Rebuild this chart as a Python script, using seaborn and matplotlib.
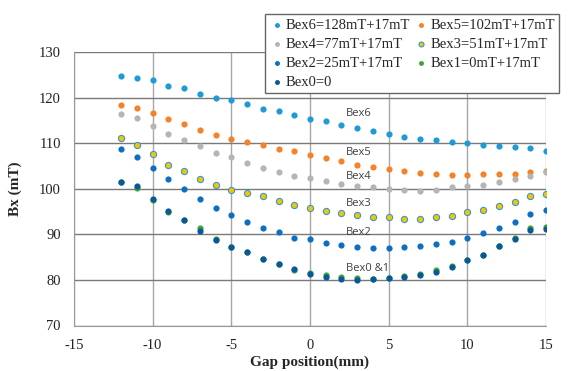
import matplotlib
matplotlib.use("Agg")
import matplotlib.pyplot as plt
import seaborn as sns
import pandas as pd
import numpy as np

gap = list(range(-12, 16))

bex6 = [124.8, 124.4, 123.8, 122.6, 122.0, 120.7, 119.8, 119.4, 118.6, 117.6, 117.0, 116.1,
        115.3, 114.9, 113.9, 113.4, 112.7, 112.0, 111.4, 110.9, 110.6, 110.3, 110.0, 109.7,
        109.4, 109.1, 109.0, 108.2]
bex5 = [118.4, 117.8, 116.6, 115.4, 114.1, 112.9, 111.8, 110.9, 110.2, 109.7, 108.8, 108.2,
        107.3, 106.7, 106.0, 105.2, 104.7, 104.3, 103.9, 103.5, 103.3, 103.1, 103.0, 103.3,
        103.3, 103.3, 103.7, 104.0]
bex4 = [116.3, 115.5, 113.7, 112.1, 110.6, 109.4, 107.9, 106.9, 105.7, 104.6, 103.7, 102.8,
        102.3, 101.7, 101.1, 100.7, 100.3, 99.9, 99.8, 99.5, 99.8, 100.4, 100.7, 100.9,
        101.4, 102.2, 102.9, 103.6]
bex3 = [111.2, 109.7, 107.6, 105.3, 103.9, 102.2, 100.9, 99.8, 99.0, 98.3, 97.4, 96.4,
        95.7, 95.1, 94.6, 94.3, 93.8, 93.8, 93.3, 93.3, 93.7, 94.1, 94.9, 95.3,
        96.2, 97.1, 98.4, 98.8]
bex2 = [108.7, 107.0, 104.6, 102.2, 100.0, 97.7, 95.7, 94.2, 92.7, 91.4, 90.5, 89.3,
        88.9, 88.1, 87.6, 87.3, 87.0, 87.0, 87.2, 87.5, 87.8, 88.4, 89.2, 90.4,
        91.4, 92.7, 94.4, 95.3]
bex1 = [101.4, 100.1, 97.6, 94.9, 93.2, 91.3, 89.0, 87.3, 86.1, 84.6, 83.4, 82.2,
        81.5, 81.0, 80.7, 80.5, 80.3, 80.4, 80.8, 81.4, 82.2, 83.1, 84.3, 85.4,
        87.5, 89.2, 91.3, 91.7]
bex0 = [101.5, 100.7, 97.8, 95.2, 93.2, 90.8, 88.8, 87.3, 86.1, 84.6, 83.4, 82.3,
        81.2, 80.7, 80.3, 80.0, 80.1, 80.4, 80.7, 81.1, 81.8, 82.9, 84.3, 85.4,
        87.5, 89.0, 91.0, 91.1]

labels = ["Bex6=128mT+17mT", "Bex5=102mT+17mT", "Bex4=77mT+17mT", "Bex3=51mT+17mT",
          "Bex2=25mT+17mT", "Bex1=0mT+17mT", "Bex0=0"]
series = [bex6, bex5, bex4, bex3, bex2, bex1, bex0]

annot_text = ["Bex6", "Bex5", "Bex4", "Bex3", "Bex2", "Bex0 &1"]
annot_y = [116.6, 108.0, 102.7, 96.8, 90.3, 82.4]
annot_x = 2.3

x_ticks = [-15, -10, -5, 0, 5, 10, 15]
y_ticks = [70, 80, 90, 100, 110, 120, 130]

face = ["#1E9BD7", "#F5822A", "#B5B5B5", "#FFC000", "#0E6EC2", "#3FA63A", "#0B5896"]
edge = ["#1E9BD7", "#F5822A", "#B5B5B5", "#2E9BD6", "#0E6EC2", "#3FA63A", "#0B5896"]

rows = []
for lab, vals in zip(labels, series):
    for g, v in zip(gap, vals):
        rows.append({"gap": g, "bx": v, "series": lab})
df = pd.DataFrame(rows)

sns.set_style("white")
plt.rcParams['font.family'] = ['Liberation Serif', 'DejaVu Serif']

fig = plt.figure(figsize=(5.68, 3.71), dpi=100)
ax = fig.add_axes([74 / 568, 1 - 325.5 / 371, (546 - 74) / 568, (325.5 - 52) / 371])

for i, lab in enumerate(labels):
    sub = df[df["series"] == lab]
    sns.scatterplot(data=sub, x="gap", y="bx", ax=ax, s=20, color=face[i],
                    edgecolor=edge[i], linewidth=0.8 if i == 3 else 0,
                    label=lab, zorder=3 + (i == 6))

ax.set_xlim(-15, 15)
ax.set_ylim(70, 130)
ax.set_xticks(x_ticks)
ax.set_yticks(y_ticks)
ax.set_xticklabels([str(t) for t in x_ticks])
ax.set_yticklabels([str(t) for t in y_ticks])
ax.tick_params(axis="both", length=0, labelsize=10.5, colors="#222222")
ax.tick_params(axis="x", pad=10)
ax.tick_params(axis="y", pad=9.5)
ax.xaxis.grid(True, color="#A8A8A8", linewidth=1.0)
ax.yaxis.grid(True, color="#7A7A7A", linewidth=1.0)
ax.set_axisbelow(True)
for side in ["top", "right"]:
    ax.spines[side].set_visible(False)
ax.spines["left"].set_color("#999999")
ax.spines["bottom"].set_color("#999999")

ax.set_xlabel("Gap position(mm)", fontsize=11, fontweight="bold", labelpad=2.5)
ax.set_ylabel("Bx (mT)", fontsize=11, fontweight="bold", labelpad=12)

for t, y in zip(annot_text, annot_y):
    ax.text(annot_x, y, t, fontsize=8, family=["Open Sans", "DejaVu Sans"],
            color="#404040", va="center", ha="left", zorder=5)

handles, labs = ax.get_legend_handles_labels()
order = [0, 2, 4, 6, 1, 3, 5]
leg = ax.legend([handles[k] for k in order], [labs[k] for k in order],
                loc="upper left", bbox_to_anchor=(265 / 568, 1 - 14 / 371),
                bbox_transform=fig.transFigure, ncol=2, fontsize=10.5,
                frameon=True, fancybox=False, framealpha=1, edgecolor="#666666",
                handletextpad=0.1, columnspacing=0.3, labelspacing=0.4,
                borderpad=0.3, borderaxespad=0, markerscale=0.8, handlelength=1.0)
leg.get_frame().set_linewidth(1.0)
leg.set_zorder(10)

fig.savefig("out.png", dpi=100)
